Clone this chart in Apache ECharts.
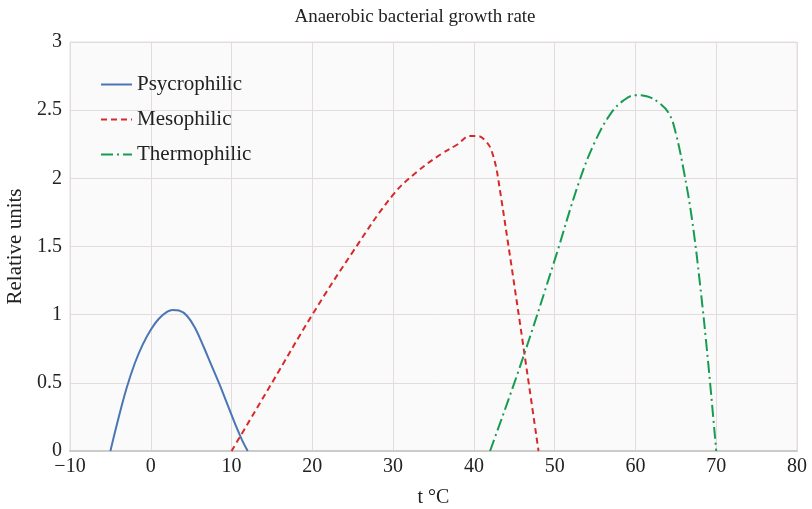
<!DOCTYPE html>
<html>
<head>
<meta charset="utf-8">
<script src="https://cdn.jsdelivr.net/npm/echarts@6/dist/echarts.min.js"></script>
<style>html,body{margin:0;padding:0;background:#fff}#c{width:812px;height:509px}</style>
</head>
<body>
<div id="c"></div>
<script>
var titleText = 'Anaerobic bacterial growth rate';
var xName = 't °C';
var yName = 'Relative units';
var seriesNames = ['Psycrophilic', 'Mesophilic', 'Thermophilic'];
var xTicks = [-10, 0, 10, 20, 30, 40, 50, 60, 70, 80];
var yTicks = [0, 0.5, 1, 1.5, 2, 2.5, 3];

var psyX = [-5, -4, -3, -2, -1, 0, 1, 2, 2.7, 3.5, 4.5, 5.5, 6.5, 7.5, 8.5, 9.5, 10.5, 11.3, 12];
var psyY = [0, 0.24, 0.46, 0.64, 0.78, 0.89, 0.97, 1.02, 1.035, 1.03, 0.99, 0.9, 0.77, 0.63, 0.49, 0.34, 0.19, 0.08, 0];

var mesX = [10, 15, 20, 25, 30, 33, 36, 38, 39.5, 40.5, 41.5, 42.2, 43, 48];
var mesY = [0, 0.5, 1.0, 1.46, 1.88, 2.05, 2.18, 2.25, 2.31, 2.31, 2.27, 2.2, 2.0, 0];

var theX = [42, 46, 50, 53, 55, 57, 58.5, 60, 61.5, 63, 64.2, 65, 66, 67, 68, 69, 70];
var theY = [0, 0.67, 1.4, 1.97, 2.27, 2.48, 2.57, 2.61, 2.6, 2.55, 2.47, 2.33, 2.05, 1.7, 1.22, 0.65, 0];

function pairs(xs, ys) { return xs.map(function (x, i) { return [x, ys[i]]; }); }
function fmtNum(v) { return String(v).replace('-', '\u2212'); }

var serif = 'Liberation Serif';
var chart = echarts.init(document.getElementById('c'), null, { renderer: 'canvas' });
chart.setOption({
  animation: false,
  backgroundColor: '#ffffff',
  title: {
    text: titleText, left: 410, top: 3, textAlign: 'center',
    textStyle: { fontFamily: serif, fontSize: 19, fontWeight: 'normal', color: '#222' }
  },
  legend: {
    orient: 'vertical', left: 95, top: 69, itemGap: 14, itemWidth: 31, itemHeight: 12,
    itemStyle: { opacity: 0 },
    textStyle: { fontFamily: serif, fontSize: 21, color: '#222' },
    data: seriesNames
  },
  grid: {
    left: 70, right: 15, top: 42, bottom: 58, show: true, outerBoundsMode: 'none', containLabel: false,
    backgroundColor: '#fbfafa', borderColor: '#e4dede', borderWidth: 1
  },
  xAxis: {
    type: 'value', min: -10, max: 80, interval: 10,
    name: xName, nameLocation: 'middle', nameGap: 37,
    nameTextStyle: { fontFamily: serif, fontSize: 20, color: '#222' },
    axisLine: { show: true, lineStyle: { color: '#cfcaca', width: 2 } },
    axisTick: { show: false },
    axisLabel: { fontFamily: serif, fontSize: 20, color: '#222', margin: 6, formatter: fmtNum },
    splitLine: { show: true, lineStyle: { color: '#e4dcdc', width: 1 } }
  },
  yAxis: {
    type: 'value', min: 0, max: 3, interval: 0.5,
    name: yName, nameLocation: 'middle', nameGap: 44, nameRotate: 90,
    nameTextStyle: { fontFamily: serif, fontSize: 21, color: '#222' },
    axisLine: { show: false }, axisTick: { show: false },
    axisLabel: { fontFamily: serif, fontSize: 20, color: '#222', margin: 8 },
    splitLine: { show: true, lineStyle: { color: '#e4dcdc', width: 1 } }
  },
  series: [
    {
      name: seriesNames[0], type: 'line', data: pairs(psyX, psyY), smooth: 0.4,
      showSymbol: false, symbol: 'none', color: '#4a76b4',
      lineStyle: { color: '#4a76b4', width: 2, type: 'solid' }
    },
    {
      name: seriesNames[1], type: 'line', data: pairs(mesX, mesY), smooth: 0.4,
      showSymbol: false, symbol: 'none', color: '#d62a2a',
      lineStyle: { color: '#d62a2a', width: 2, type: [6, 4] }
    },
    {
      name: seriesNames[2], type: 'line', data: pairs(theX, theY), smooth: 0.4,
      showSymbol: false, symbol: 'none', color: '#169c52',
      lineStyle: { color: '#169c52', width: 2, type: [12, 4, 2, 4] }
    }
  ]
});
</script>
</body>
</html>
